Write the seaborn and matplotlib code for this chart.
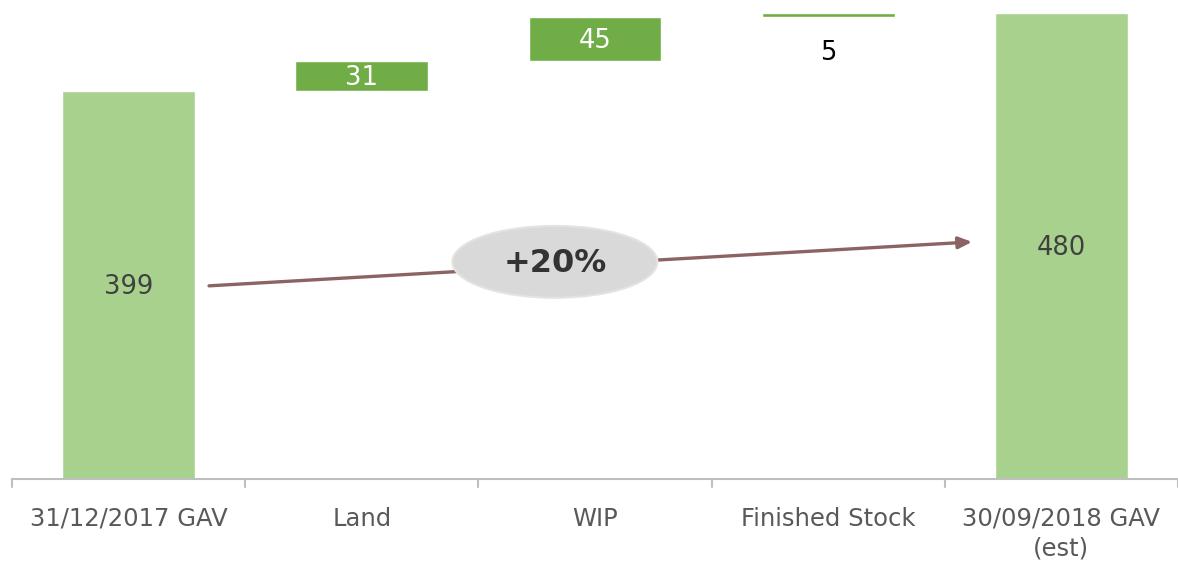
import matplotlib
matplotlib.use("Agg")
import matplotlib.pyplot as plt
from matplotlib.patches import Ellipse
import pandas as pd
import seaborn as sns

# Gross asset value bridge
categories = ["31/12/2017 GAV", "Land", "WIP", "Finished Stock", "30/09/2018 GAV\n(est)"]
values = [399, 31, 45, 5, 480]
is_total = [True, False, False, False, True]
growth_label = "+20%"

# floating bases for the movement bars
bases = []
running = 0
for v, tot in zip(values, is_total):
    if tot:
        bases.append(0)
        running = v
    else:
        bases.append(running)
        running += v

df = pd.DataFrame({"category": categories, "value": values,
                   "base": bases, "total": is_total})
totals = df[df["total"]]
moves = df[~df["total"]]

TOTAL_COLOR = "#A9D18E"
MOVE_COLOR = "#70AD47"
AXIS_GRAY = "#BFBFBF"

sns.set_style("white")
plt.rcParams["font.family"] = ["DejaVu Sans"]

fig = plt.figure(figsize=(11.78, 5.61), dpi=100)
ax = fig.add_axes([12 / 1178, 82 / 561, 1166 / 1178, 479 / 561])

sns.barplot(data=totals, x="category", y="value", order=categories,
            color=TOTAL_COLOR, width=0.57, saturation=1, ax=ax)
sns.barplot(data=moves, x="category", y="value", order=categories,
            color=MOVE_COLOR, width=0.57, saturation=1, ax=ax,
            bottom=moves["base"].tolist())

ax.set_xlim(-0.5, 4.5)
ax.set_ylim(0, 493)

# value labels
for i, (v, b, tot) in enumerate(zip(values, bases, is_total)):
    if tot:
        ax.text(i, b + v / 2 - 2, f"{v}", ha="center", va="center",
                fontsize=18.5, color="#404040")
    elif v >= 20:
        ax.text(i, b + v / 2 - 2, f"{v}", ha="center", va="center",
                fontsize=18.5, color="white")
    else:
        ax.text(i, b - 37, f"{v}", ha="center", va="center",
                fontsize=18.5, color="black")

# growth arrow with badge
ax.annotate("", xy=(3.617, 244), xytext=(0.345, 198.8),
            arrowprops=dict(arrowstyle="-|>,head_length=0.8,head_width=0.35",
                            color="#8B6363", lw=2.4, shrinkA=0, shrinkB=0),
            zorder=4)
ax.add_patch(Ellipse((1.828, 223.5), 0.879, 74, facecolor="#D9D9D9",
                     edgecolor="#E8E2DE", lw=1.5, zorder=5))
ax.text(1.828, 222, growth_label, ha="center", va="center",
        fontsize=23, fontweight="bold", color="#333333", zorder=6)

# axes styling
for side in ["top", "right", "left"]:
    ax.spines[side].set_visible(False)
ax.spines["bottom"].set_color(AXIS_GRAY)
ax.spines["bottom"].set_linewidth(1.5)
ax.set_yticks([])
ax.set_xlabel("")
ax.set_ylabel("")
ax.set_xticks(range(len(categories)))
ax.set_xticklabels(categories, fontsize=17.5, color="#595959",
                   linespacing=1.3)
ax.tick_params(axis="x", length=0, pad=20)
for b in [-0.5, 0.5, 1.5, 2.5, 3.5, 4.5]:
    ax.plot([b, b], [0, -8], color=AXIS_GRAY, lw=1.5, clip_on=False)

fig.savefig("out.png", dpi=100)
